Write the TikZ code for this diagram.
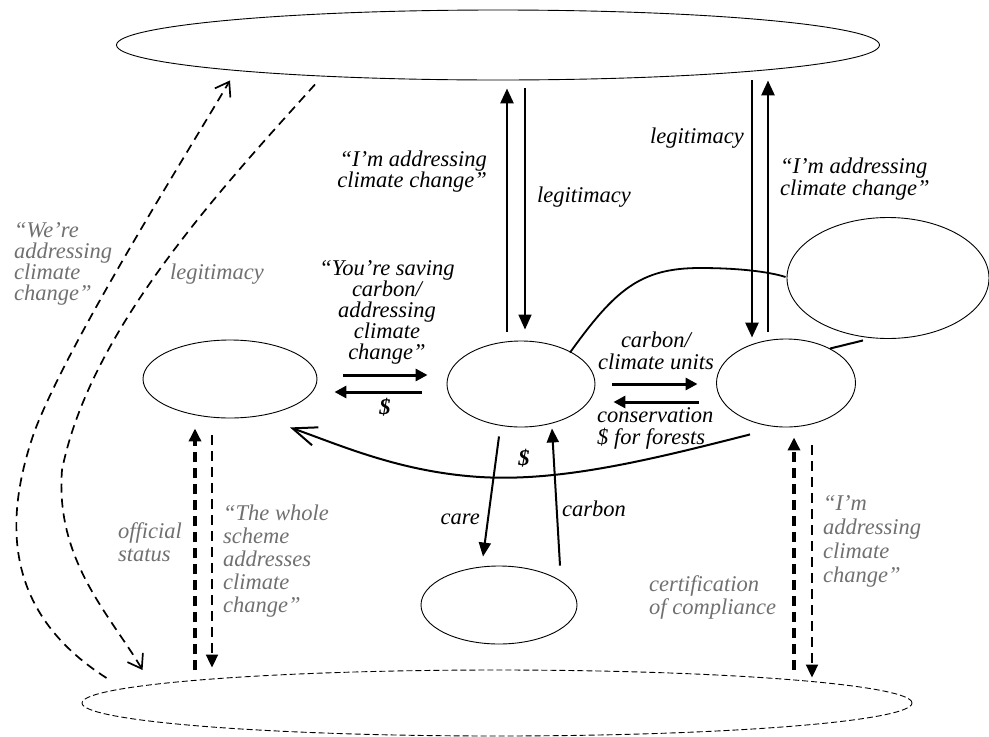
\documentclass[tikz,border=0pt]{standalone}
\usepackage{fontspec}
\setmainfont{Liberation Serif}
\usetikzlibrary{arrows.meta,shapes.geometric}
\definecolor{txtgray}{RGB}{112,112,112}
\begin{document}
\begin{tikzpicture}[x=1pt,y=-1pt,
  oval/.style={draw,ellipse,line width=0.9pt,inner sep=0pt},
  lbl/.style={inner sep=0pt,font=\fontsize{22.5}{#1}\selectfont\itshape},
  lbl/.default=22,
  glbl/.style={lbl=#1,text=txtgray},
  glbl/.default=23,
  dollar/.style={inner sep=0pt,font=\fontsize{22.5}{22}\selectfont\bfseries\itshape},
  bigarrow/.style={line width=2.7pt,-{Triangle[length=15pt,width=13pt]}},
  hzarrow/.style={line width=3pt,-{Triangle[length=12pt,width=12pt]}},
  midarrow/.style={line width=2pt,-{Triangle[length=14pt,width=12pt]}},
  dasharrow/.style={dash pattern=on 10pt off 6pt,-{Triangle[length=13pt,width=12pt]}},
  dashcurve/.style={line width=1.7pt,dash pattern=on 9pt off 6pt,-{Straight Barb[length=13pt,width=18pt]}},
]
\useasboundingbox (0,0) rectangle (989,737);

% ellipses
\node[oval,minimum width=763pt,minimum height=70pt] (topE) at (498,45) {};
\node[oval,minimum width=174pt,minimum height=78pt] (leftE) at (230,379) {};
\node[oval,minimum width=148pt,minimum height=86pt] (midE) at (521,384) {};
\node[oval,minimum width=139pt,minimum height=88pt] (rightE) at (786,383) {};
\node[oval,minimum width=202pt,minimum height=121pt] (farE) at (888,278) {};
\node[oval,minimum width=156pt,minimum height=78pt] (lowE) at (499,605) {};
\node[oval,dash pattern=on 6pt off 3pt,minimum width=830pt,minimum height=66pt] (baseE) at (497,703) {};

% vertical arrows to/from the top ellipse
\draw[bigarrow] ([shift={(-14,-9)}]midE.north) -- ([shift={(9,8)}]topE.south);
\draw[line width=1.7pt,-{Triangle[length=15pt,width=13pt]}] ([shift={(27,8)}]topE.south) -- ([shift={(4,-11)}]midE.north);
\draw[bigarrow] ([shift={(254,0)}]topE.south) -- ([shift={(-34,-1)}]rightE.north);
\draw[bigarrow] ([shift={(-18,-7)}]rightE.north) -- ([shift={(270,0)}]topE.south);

% horizontal arrows
\draw[hzarrow] ([shift={(26,-4)}]leftE.east) -- ([shift={(-19,-9)}]midE.west);
\draw[hzarrow] ([shift={(-25,8)}]midE.west) -- ([shift={(17,13)}]leftE.east);
\draw[hzarrow] ([shift={(17,0)}]midE.east) -- ([shift={(-18.5,1)}]rightE.west);
\draw[hzarrow] ([shift={(-17.5,19)}]rightE.west) -- ([shift={(18,18)}]midE.east);

% care / carbon
\draw[midarrow] ([shift={(-22,9)}]midE.south) -- ([shift={(-16,-9)}]lowE.north);
\draw[midarrow] ([shift={(61,0)}]lowE.north) -- ([shift={(31,1)}]midE.south);

% dashed vertical arrows
\draw[dasharrow,line width=3.3pt] ([shift={(-302,0)}]baseE.north) -- ([shift={(-35,10)}]leftE.south);
\draw[dasharrow,line width=2pt] ([shift={(-18,17)}]leftE.south) -- ([shift={(-285,-2)}]baseE.north);
\draw[dasharrow,line width=3.3pt] ([shift={(297,0)}]baseE.north) -- ([shift={(8,10)}]rightE.south);
\draw[dasharrow,line width=2pt] ([shift={(26,18)}]rightE.south) -- ([shift={(315,8)}]baseE.north);

% plain connecting lines
\draw[line width=2pt] ([shift={(44,10)}]rightE.north) -- ([shift={(-25,1.5)}]farE.south);
\draw[line width=1.8pt] ([shift={(49,12)}]midE.north) .. controls (615,290) and (640,268) .. (700,268)
  .. controls (740,268) and (770,272) .. ([shift={(-1,-1)}]farE.west);

% money curve
\draw[line width=2pt,-{Straight Barb[length=24pt,width=19pt]}] ([shift={(-36,7)}]rightE.south)
  .. controls (650,460) and (560,482) .. (480,477)
  .. controls (400,472) and (340,445) .. ([shift={(60,9)}]leftE.south);

% dashed curves on the left
\draw[dashcurve] ([shift={(25,-25)}]baseE.west) .. controls (0,610) and (5,515) .. (35,430)
  .. controls (70,340) and (180,165) .. ([shift={(-268,0)}]topE.south);
\draw[dashcurve] ([shift={(-183,4)}]topE.south) .. controls (220,190) and (90,330) .. (62,470)
  .. controls (55,560) and (110,615) .. ([shift={(61,-33)}]baseE.west);

% labels
\node[glbl=21,align=left,anchor=north west] (l1) at (14,222) {“We’re\\addressing\\climate\\change”};
\node[glbl,anchor=base west] (l2) at (170,279) {legitimacy};
\node[lbl=21,align=right,anchor=north east] (l3) at (487,151) {“I’m addressing\\climate change”};
\node[lbl,anchor=base west] (l4) at (537,202) {legitimacy};
\node[lbl,anchor=base west] (l5) at (650,143) {legitimacy};
\node[lbl=22,align=left,anchor=north west] (l6) at (780,158) {“I’m addressing\\climate change”};
\node[lbl=21,align=center,anchor=north] (l7) at (387,260) {“You’re saving\\carbon/\\addressing\\climate\\change”};
\node[dollar] (l8) at (385,407) {\$};
\node[lbl=22,align=center,anchor=north] (l9) at (656,332) {carbon/\\climate units};
\node[lbl=22,align=left,anchor=north west] (l10) at (597,407) {conservation\\\$ for forests};
\node[dollar] (l11) at (524,458) {\$};
\node[lbl,anchor=base east] (l12) at (480,524) {care};
\node[lbl,anchor=base west] (l13) at (562,516) {carbon};
\node[glbl=23,align=left,anchor=north west] (l14) at (118,522) {official\\status};
\node[glbl=23,align=left,anchor=north west] (l15) at (223,505) {“The whole\\scheme\\addresses\\climate\\change”};
\node[glbl=23,align=left,anchor=north west] (l16) at (649,575) {certification\\of compliance};
\node[glbl=24,align=left,anchor=north west] (l17) at (823,495) {“I’m\\addressing\\climate\\change”};
\end{tikzpicture}
\end{document}
